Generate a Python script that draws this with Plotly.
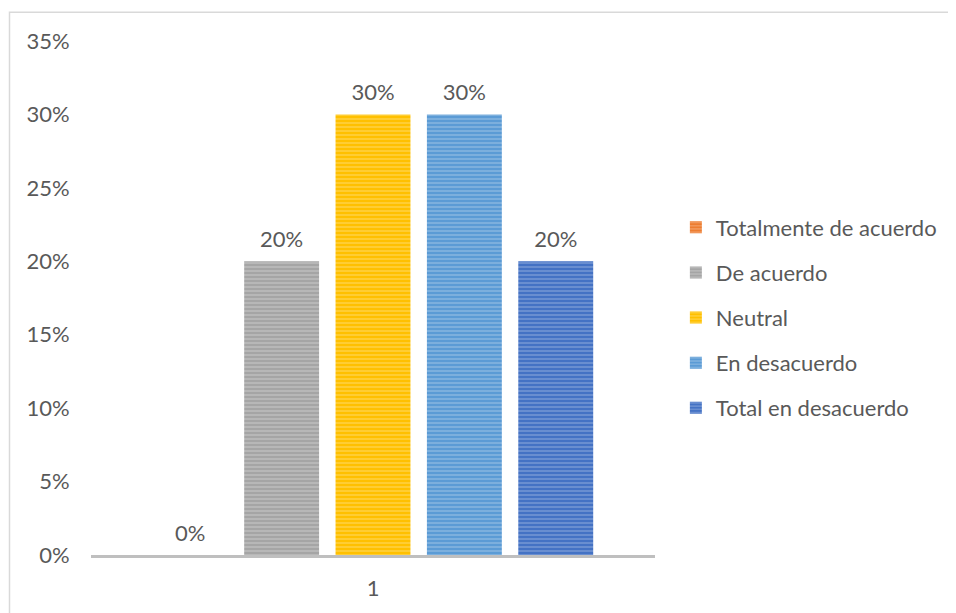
import plotly.graph_objects as go

categories = ["1"]
series_names = ["Totalmente de acuerdo", "De acuerdo", "Neutral", "En desacuerdo", "Total en desacuerdo"]
series_values = [0.0, 0.20, 0.30, 0.30, 0.20]
series_colors = ["#ED7D31", "#A5A5A5", "#FFC000", "#5B9BD5", "#4472C4"]
tick_vals = [0, 0.05, 0.10, 0.15, 0.20, 0.25, 0.30, 0.35]
tick_text = ["0%", "5%", "10%", "15%", "20%", "25%", "30%", "35%"]

FONT = "Lato"
FS = 22
TXT = "#595959"

fig = go.Figure()
for i, (name, val, col) in enumerate(zip(series_names, series_values, series_colors)):
    fig.add_trace(go.Bar(
        x=categories, y=[val], name=name,
        marker=dict(color=col, line=dict(width=0),
                    pattern=dict(shape="-", size=4, solidity=0.45,
                                 fgcolor="rgba(255,255,255,0.45)", fillmode="overlay")),
        legendgroup=f"g{i}",
    ))
for i, (name, val) in enumerate(zip(series_names, series_values)):
    fig.add_trace(go.Scatter(
        x=categories, y=[val], mode="markers+text",
        marker=dict(size=12, color="rgba(0,0,0,0)"),
        text=[f"{val*100:.0f}%"], textposition="top center",
        textfont=dict(family=FONT, size=FS, color=TXT),
        cliponaxis=False, showlegend=False, hoverinfo="skip",
    ))

fig.update_layout(
    width=948, height=605,
    margin=dict(l=83, r=301, t=33, b=46),
    paper_bgcolor="white", plot_bgcolor="white",
    barmode="group", bargap=0.19, bargroupgap=0.18,
    scattermode="group", scattergap=0.19,
    font=dict(family=FONT, size=FS, color=TXT),
    showlegend=True,
    legend=dict(x=1.037, xanchor="left", y=0.462, yanchor="middle",
                traceorder="grouped", tracegroupgap=13.5,
                font=dict(family=FONT, size=FS, color=TXT),
                itemwidth=30),
    xaxis=dict(showline=True, linecolor="#BFBFBF", linewidth=3, showgrid=False,
               ticks="outside", ticklen=12, tickcolor="rgba(0,0,0,0)",
               tickfont=dict(family=FONT, size=FS, color=TXT), fixedrange=True),
    yaxis=dict(range=[0, 0.35], tickvals=tick_vals, ticktext=tick_text, showgrid=False,
               zeroline=False, showline=False, ticks="outside", ticklen=16,
               tickcolor="rgba(0,0,0,0)",
               tickfont=dict(family=FONT, size=FS, color=TXT)),
    shapes=[dict(type="rect", xref="paper", yref="paper",
                 x0=(9.5 - 91) / 564, x1=1 + 400 / 564,
                 y0=-0.3, y1=1 + (41 - 11.5) / 526,
                 line=dict(color="#D9D9D9", width=1.5), fillcolor="rgba(0,0,0,0)", layer="below")],
)

fig.write_html("out.html")
